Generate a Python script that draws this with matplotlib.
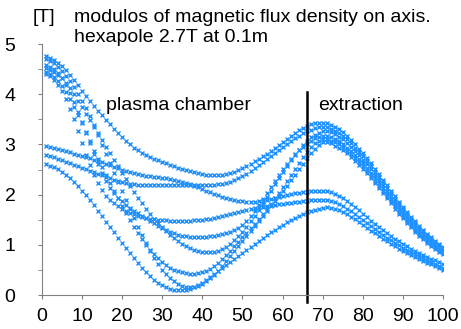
import numpy as np
import matplotlib.pyplot as plt

# position along the axis (1 ... 100)
x = list(range(1, 101))

# |B| [T] for the nine field lines
a1 = [4.76, 4.73, 4.69, 4.63, 4.56, 4.48, 4.39, 4.29, 4.18, 4.07,
      3.97, 3.87, 3.77, 3.67, 3.58, 3.49, 3.40, 3.31, 3.23, 3.15,
      3.07, 3.00, 2.94, 2.89, 2.84, 2.80, 2.76, 2.72, 2.69, 2.66,
      2.63, 2.60, 2.57, 2.54, 2.51, 2.49, 2.47, 2.45, 2.43, 2.41,
      2.40, 2.39, 2.39, 2.39, 2.40, 2.41, 2.43, 2.46, 2.49, 2.53,
      2.57, 2.62, 2.67, 2.72, 2.77, 2.82, 2.87, 2.93, 2.99, 3.05,
      3.11, 3.17, 3.23, 3.28, 3.33, 3.37, 3.40, 3.42, 3.43, 3.43,
      3.42, 3.39, 3.35, 3.30, 3.24, 3.17, 3.09, 3.01, 2.92, 2.83,
      2.73, 2.63, 2.52, 2.41, 2.30, 2.19, 2.08, 1.97, 1.86, 1.76,
      1.66, 1.56, 1.47, 1.38, 1.30, 1.22, 1.15, 1.08, 1.02, 0.96]

b2 = [2.79, 2.77, 2.75, 2.72, 2.69, 2.66, 2.63, 2.60, 2.57, 2.54,
      2.51, 2.48, 2.45, 2.42, 2.39, 2.36, 2.33, 2.30, 2.28, 2.26,
      2.24, 2.22, 2.21, 2.20, 2.20, 2.19, 2.19, 2.19, 2.19, 2.19,
      2.19, 2.19, 2.19, 2.19, 2.19, 2.19, 2.19, 2.19, 2.19, 2.19,
      2.19, 2.19, 2.20, 2.21, 2.22, 2.24, 2.26, 2.29, 2.33, 2.37,
      2.42, 2.47, 2.53, 2.59, 2.65, 2.71, 2.77, 2.83, 2.89, 2.95,
      3.01, 3.07, 3.12, 3.17, 3.22, 3.26, 3.29, 3.32, 3.34, 3.35,
      3.34, 3.31, 3.27, 3.22, 3.17, 3.10, 3.02, 2.94, 2.85, 2.77,
      2.67, 2.57, 2.46, 2.35, 2.25, 2.14, 2.03, 1.92, 1.81, 1.72,
      1.62, 1.52, 1.43, 1.34, 1.27, 1.19, 1.12, 1.05, 0.99, 0.93]

b3 = [2.97, 2.96, 2.94, 2.92, 2.90, 2.87, 2.85, 2.82, 2.80, 2.78,
      2.75, 2.73, 2.70, 2.68, 2.65, 2.62, 2.59, 2.56, 2.53, 2.50,
      2.47, 2.45, 2.43, 2.41, 2.40, 2.38, 2.37, 2.36, 2.35, 2.34,
      2.33, 2.32, 2.30, 2.28, 2.26, 2.23, 2.21, 2.18, 2.15, 2.12,
      2.08, 2.05, 2.02, 1.99, 1.96, 1.93, 1.91, 1.89, 1.88, 1.87,
      1.86, 1.86, 1.86, 1.87, 1.88, 1.89, 1.91, 1.93, 1.95, 1.97,
      1.99, 2.01, 2.03, 2.04, 2.05, 2.06, 2.07, 2.08, 2.08, 2.08,
      2.07, 2.05, 2.02, 1.98, 1.93, 1.88, 1.82, 1.76, 1.69, 1.62,
      1.55, 1.48, 1.42, 1.36, 1.30, 1.24, 1.18, 1.12, 1.07, 1.02,
      0.97, 0.92, 0.88, 0.84, 0.80, 0.76, 0.72, 0.69, 0.66, 0.62]

b1 = [2.61, 2.58, 2.55, 2.51, 2.46, 2.40, 2.33, 2.25, 2.17, 2.08,
      1.99, 1.89, 1.79, 1.68, 1.57, 1.46, 1.36, 1.25, 1.14, 1.03,
      0.93, 0.83, 0.73, 0.63, 0.54, 0.46, 0.38, 0.31, 0.25, 0.20,
      0.16, 0.13, 0.11, 0.10, 0.10, 0.11, 0.13, 0.16, 0.20, 0.25,
      0.30, 0.36, 0.42, 0.48, 0.54, 0.60, 0.66, 0.72, 0.78, 0.84,
      0.90, 0.96, 1.02, 1.08, 1.14, 1.20, 1.25, 1.30, 1.35, 1.40,
      1.45, 1.50, 1.54, 1.58, 1.62, 1.65, 1.68, 1.70, 1.72, 1.74,
      1.75, 1.74, 1.72, 1.69, 1.65, 1.61, 1.56, 1.51, 1.45, 1.40,
      1.34, 1.28, 1.23, 1.17, 1.12, 1.07, 1.02, 0.97, 0.92, 0.88,
      0.84, 0.80, 0.76, 0.72, 0.68, 0.64, 0.61, 0.57, 0.54, 0.51]

s2 = [4.40, 4.36, 4.29, 4.19, 4.06, 3.90, 3.71, 3.50, 3.27, 3.03,
      2.80, 2.59, 2.40, 2.23, 2.09, 1.98, 1.90, 1.83, 1.77, 1.72,
      1.68, 1.64, 1.61, 1.58, 1.56, 1.54, 1.52, 1.51, 1.50, 1.49,
      1.49, 1.48, 1.48, 1.48, 1.48, 1.48, 1.48, 1.49, 1.49, 1.50,
      1.51, 1.52, 1.53, 1.55, 1.57, 1.59, 1.61, 1.63, 1.65, 1.67,
      1.69, 1.71, 1.73, 1.75, 1.76, 1.78, 1.79, 1.80, 1.81, 1.82,
      1.83, 1.84, 1.85, 1.86, 1.87, 1.88, 1.89, 1.89, 1.90, 1.90,
      1.90, 1.88, 1.85, 1.81, 1.77, 1.72, 1.67, 1.61, 1.55, 1.49,
      1.43, 1.37, 1.31, 1.25, 1.20, 1.14, 1.09, 1.04, 0.99, 0.94,
      0.90, 0.85, 0.81, 0.77, 0.73, 0.69, 0.65, 0.62, 0.58, 0.55]

s1 = [4.58, 4.55, 4.50, 4.42, 4.32, 4.19, 4.03, 3.85, 3.65, 3.44,
      3.23, 3.02, 2.81, 2.61, 2.43, 2.27, 2.14, 2.03, 1.94, 1.87,
      1.80, 1.74, 1.68, 1.63, 1.58, 1.53, 1.48, 1.43, 1.38, 1.34,
      1.30, 1.26, 1.23, 1.20, 1.18, 1.17, 1.16, 1.16, 1.16, 1.16,
      1.16, 1.17, 1.18, 1.19, 1.21, 1.23, 1.26, 1.29, 1.33, 1.39,
      1.47, 1.57, 1.68, 1.80, 1.92, 2.04, 2.16, 2.28, 2.40, 2.51,
      2.62, 2.72, 2.81, 2.89, 2.96, 3.02, 3.07, 3.12, 3.15, 3.17,
      3.17, 3.14, 3.11, 3.06, 3.01, 2.94, 2.87, 2.80, 2.71, 2.63,
      2.53, 2.44, 2.33, 2.23, 2.13, 2.02, 1.92, 1.81, 1.71, 1.61,
      1.52, 1.42, 1.34, 1.26, 1.18, 1.11, 1.04, 0.98, 0.92, 0.87]

d2 = [4.52, 4.49, 4.45, 4.39, 4.32, 4.23, 4.12, 4.00, 3.87, 3.74,
      3.61, 3.48, 3.35, 3.22, 3.09, 2.96, 2.83, 2.70, 2.57, 2.44,
      2.31, 2.18, 2.06, 1.94, 1.83, 1.72, 1.62, 1.52, 1.43, 1.35,
      1.27, 1.20, 1.13, 1.07, 1.02, 0.97, 0.93, 0.90, 0.88, 0.86,
      0.85, 0.85, 0.86, 0.88, 0.91, 0.96, 1.02, 1.09, 1.17, 1.26,
      1.36, 1.47, 1.58, 1.70, 1.82, 1.95, 2.08, 2.21, 2.34, 2.46,
      2.58, 2.69, 2.80, 2.90, 2.99, 3.07, 3.14, 3.19, 3.23, 3.27,
      3.26, 3.24, 3.20, 3.15, 3.10, 3.03, 2.95, 2.88, 2.79, 2.70,
      2.61, 2.51, 2.40, 2.30, 2.19, 2.08, 1.98, 1.87, 1.76, 1.67,
      1.57, 1.47, 1.39, 1.30, 1.22, 1.15, 1.08, 1.01, 0.96, 0.90]

lx = [4.44, 4.40, 4.34, 4.26, 4.16, 4.04, 3.90, 3.75, 3.59, 3.42,
      3.24, 3.06, 2.88, 2.71, 2.55, 2.39, 2.23, 2.08, 1.93, 1.78,
      1.63, 1.49, 1.36, 1.23, 1.11, 1.00, 0.90, 0.81, 0.73, 0.66,
      0.60, 0.55, 0.51, 0.48, 0.46, 0.44, 0.43, 0.43, 0.44, 0.46,
      0.49, 0.53, 0.58, 0.64, 0.71, 0.79, 0.88, 0.97, 1.06, 1.15,
      1.24, 1.33, 1.42, 1.51, 1.61, 1.71, 1.82, 1.93, 2.04, 2.15,
      2.27, 2.39, 2.51, 2.63, 2.75, 2.86, 2.95, 3.02, 3.07, 3.10,
      3.10, 3.07, 3.04, 3.00, 2.95, 2.88, 2.81, 2.74, 2.65, 2.57,
      2.48, 2.38, 2.28, 2.18, 2.08, 1.97, 1.87, 1.77, 1.66, 1.57,
      1.48, 1.38, 1.30, 1.22, 1.15, 1.07, 1.01, 0.95, 0.89, 0.84]

d1 = [4.70, 4.67, 4.62, 4.55, 4.47, 4.37, 4.26, 4.14, 4.01, 3.87,
      3.72, 3.56, 3.38, 3.19, 2.99, 2.81, 2.63, 2.44, 2.26, 2.07,
      1.89, 1.71, 1.53, 1.36, 1.19, 1.03, 0.88, 0.74, 0.62, 0.51,
      0.42, 0.34, 0.28, 0.23, 0.19, 0.17, 0.16, 0.17, 0.19, 0.23,
      0.28, 0.34, 0.41, 0.49, 0.58, 0.67, 0.77, 0.87, 0.97, 1.07,
      1.17, 1.27, 1.37, 1.47, 1.57, 1.67, 1.77, 1.87, 1.97, 2.07,
      2.18, 2.29, 2.40, 2.51, 2.62, 2.73, 2.83, 2.92, 2.99, 3.04,
      3.04, 3.02, 2.98, 2.94, 2.89, 2.83, 2.76, 2.68, 2.60, 2.52,
      2.43, 2.34, 2.23, 2.13, 2.03, 1.93, 1.83, 1.72, 1.62, 1.53,
      1.44, 1.35, 1.26, 1.18, 1.11, 1.04, 0.98, 0.91, 0.86, 0.81]

plt.rcParams['font.family'] = 'Liberation Sans'
plt.rcParams['font.size'] = 14

fig = plt.figure(figsize=(4.61, 3.29), dpi=100)
ax = fig.add_axes([0.091, 0.103, 0.870, 0.763])
for y in [a1, b2, b3, b1, s2, s1, d2, lx, d1]:
    ax.plot(x, y, ls='none', marker='x', markersize=3.5, mew=1.0, color='#1e90ff')

# boundary between plasma chamber and extraction
ax.plot([66, 66], [-0.13, 4.05], color='black', lw=1.8, clip_on=False)
ax.text(16.0, 3.69, 'plasma chamber', va='baseline')
ax.text(68.8, 3.69, 'extraction', va='baseline')

ax.set_xlim(0, 100)
ax.set_ylim(0, 5)
ax.set_xticks(range(0, 101, 10))
ax.set_yticks(range(0, 6))
ax.set_yticks(np.arange(0, 5.01, 0.5), minor=True)
for s in ['top', 'right']:
    ax.spines[s].set_visible(False)
for s in ['left', 'bottom']:
    ax.spines[s].set_color('#808080')
ax.tick_params(which='both', direction='out', length=3, color='#808080')
ax.tick_params(axis='y', pad=16)
ax.tick_params(axis='x', pad=6)

fig.text(33 / 461, 1 - 22 / 329, '[T]', va='baseline')
fig.text(74 / 461, 1 - 22 / 329, 'modulos of magnetic flux density on axis.', va='baseline')
fig.text(74 / 461, 1 - 42 / 329, 'hexapole 2.7T at 0.1m', va='baseline')

fig.savefig('out.png', dpi=100)
